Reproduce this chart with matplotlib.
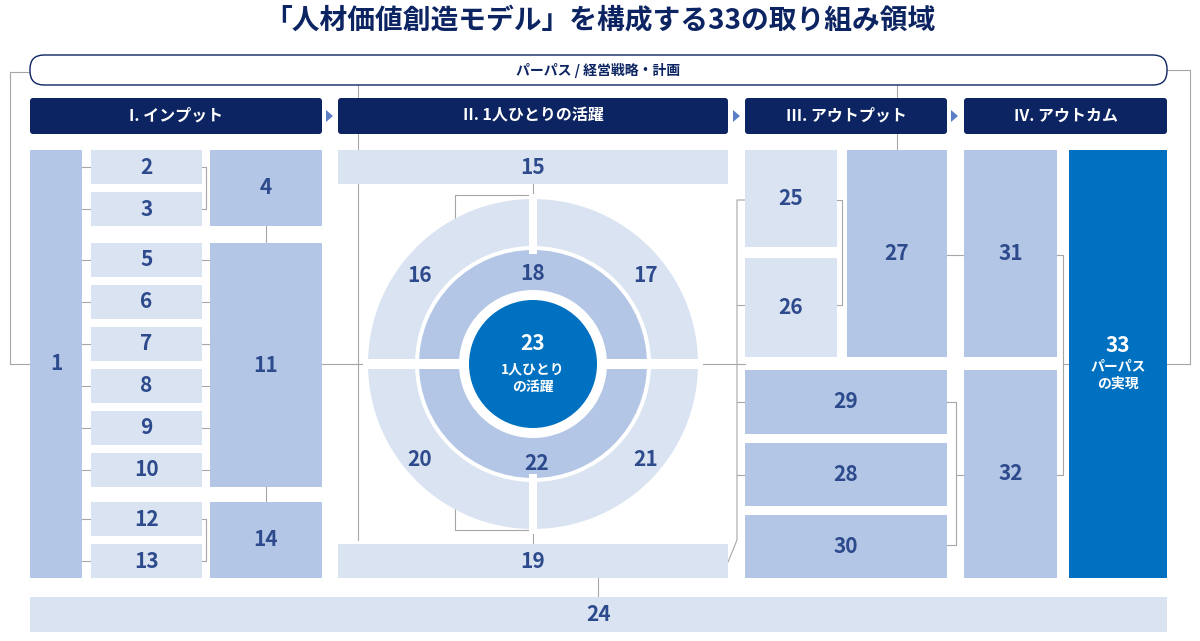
import matplotlib.pyplot as plt
from matplotlib.patches import Rectangle, FancyBboxPatch, Wedge, Circle, Polygon

plt.rcParams['font.family'] = ['Noto Sans CJK JP', 'DejaVu Sans']

NAVY = '#0c2461'
LIGHT = '#dae3f1'
MID = '#b4c6e6'
BLUE = '#0070c0'
NUM = '#2c4a8c'
GRAY = '#a6a6a6'

title = "「人材価値創造モデル」を構成する33の取り組み領域"
purpose = "パーパス / 経営戦略・計画"
headers = ["I. インプット", "II. 1人ひとりの活躍", "III. アウトプット", "IV. アウトカム"]
header_x = [(30, 322), (338, 728), (745, 947), (964, 1167)]

# (label, x0, y0, x1, y1, fill)
boxes = [
    ("1", 30, 150, 82, 578, MID),
    ("2", 91, 150, 202, 184, LIGHT), ("3", 91, 192, 202, 226, LIGHT),
    ("4", 210, 150, 322, 226, MID),
    ("5", 91, 243, 202, 277, LIGHT), ("6", 91, 285, 202, 319, LIGHT),
    ("7", 91, 327, 202, 361, LIGHT), ("8", 91, 369, 202, 403, LIGHT),
    ("9", 91, 411, 202, 445, LIGHT), ("10", 91, 453, 202, 487, LIGHT),
    ("11", 210, 243, 322, 487, MID),
    ("12", 91, 502, 202, 536, LIGHT), ("13", 91, 544, 202, 578, LIGHT),
    ("14", 210, 502, 322, 578, MID),
    ("15", 338, 150, 728, 184, LIGHT), ("19", 338, 544, 728, 578, LIGHT),
    ("25", 745, 150, 837, 247, LIGHT), ("26", 745, 258, 837, 357, LIGHT),
    ("27", 847, 150, 947, 357, MID),
    ("29", 745, 370, 947, 434, MID), ("28", 745, 443, 947, 506, MID),
    ("30", 745, 515, 947, 578, MID),
    ("31", 964, 150, 1057, 357, MID), ("32", 964, 370, 1057, 578, MID),
    ("24", 30, 597, 1167, 632, LIGHT),
]
ring_labels = {"16": (420, 276), "17": (646, 276), "20": (420, 460), "21": (646, 460),
               "18": (533, 273), "22": (537, 463)}

fig = plt.figure(figsize=(12, 6.41), dpi=100)
ax = fig.add_axes([0, 0, 1, 1])
ax.set_xlim(0, 1200)
ax.set_ylim(641, 0)
ax.axis('off')

ax.text(600, 20, title, ha='center', va='center', fontsize=20, weight='bold', color=NAVY)

# connector lines
lines = [
    [(30, 72), (10, 72), (10, 364), (30, 364)],
    [(1167, 70), (1190, 70), (1190, 364), (1167, 364)],
    [(322, 364), (745, 364)],
    [(82, 167), (91, 167)], [(82, 209), (91, 209)],
    [(82, 260), (91, 260)], [(82, 302), (91, 302)], [(82, 344), (91, 344)],
    [(82, 386), (91, 386)], [(82, 428), (91, 428)], [(82, 470), (91, 470)],
    [(82, 519), (91, 519)], [(82, 561), (91, 561)],
    [(202, 167), (206, 167), (206, 209), (202, 209)],
    [(202, 519), (206, 519), (206, 561), (202, 561)],
    [(266, 226), (266, 243)], [(266, 487), (266, 502)],
    [(202, 260), (210, 260)], [(202, 302), (210, 302)], [(202, 344), (210, 344)],
    [(202, 386), (210, 386)], [(202, 428), (210, 428)], [(202, 470), (210, 470)],
    [(358, 85), (358, 98)], [(358, 134), (358, 540)],
    [(533, 184), (533, 195), (455, 195), (455, 222)],
    [(455, 508), (455, 530), (533, 530), (533, 544)],
    [(745, 200), (737, 200), (737, 540), (728, 562)],
    [(737, 305), (745, 305)], [(737, 402), (745, 402)], [(737, 475), (745, 475)],
    [(837, 200), (842, 200), (842, 305), (837, 305)],
    [(947, 255), (964, 255)], [(947, 402), (956, 402), (956, 545), (947, 545)],
    [(956, 475), (964, 475)],
    [(1057, 255), (1063, 255), (1063, 475), (1057, 475)], [(1063, 364), (1069, 364)],
    [(897, 150), (897, 85)], [(598, 578), (598, 597)],
]
for ln in lines:
    xs, ys = zip(*ln)
    ax.plot(xs, ys, color=GRAY, lw=0.8, zorder=1)

# purpose bar
ax.add_patch(FancyBboxPatch((30, 55), 1137, 30, boxstyle="round,pad=0,rounding_size=14",
                            fc='white', ec=NAVY, lw=1, zorder=2))
ax.text(598, 70, purpose, ha='center', va='center', fontsize=10, weight='bold', color=NAVY)

# headers with arrow heads
for h, (x0, x1) in zip(headers, header_x):
    ax.add_patch(FancyBboxPatch((x0, 98), x1 - x0, 36, boxstyle="round,pad=0,rounding_size=3",
                                fc=NAVY, ec='none', zorder=2))
    ax.text((x0 + x1) / 2, 116, h, ha='center', va='center', fontsize=11.5,
            weight='bold', color='white')
for xa in [326, 733, 951]:
    ax.add_patch(Polygon([(xa, 110), (xa + 7, 116), (xa, 122)], fc='#5b7fc7', ec='none'))

for lab, x0, y0, x1, y1, fc in boxes:
    ax.add_patch(Rectangle((x0, y0), x1 - x0, y1 - y0, fc=fc, ec='none', zorder=2))
    ax.text((x0 + x1) / 2, (y0 + y1) / 2, lab, ha='center', va='center',
            fontsize=15, weight='bold', color=NUM, zorder=3)

# 33 box
ax.add_patch(Rectangle((1069, 150), 98, 428, fc=BLUE, ec='none', zorder=2))
ax.text(1118, 345, "33", ha='center', va='center', fontsize=15, weight='bold', color='white')
ax.text(1118, 375, "パーパス\nの実現", ha='center', va='center', fontsize=10,
        weight='bold', color='white', linespacing=1.3)

# rings
cx, cy = 533, 364
ax.add_patch(Wedge((cx, cy), 165, 0, 360, width=47, fc=LIGHT, ec='none', zorder=2))
ax.add_patch(Wedge((cx, cy), 114, 0, 360, width=40, fc=MID, ec='none', zorder=2))
ax.add_patch(Rectangle((cx - 4, cy - 170), 8, 60, fc='white', ec='none', zorder=2.5))
ax.add_patch(Rectangle((cx - 4, cy + 110), 8, 60, fc='white', ec='none', zorder=2.5))
ax.add_patch(Rectangle((cx - 170, cy - 5), 340, 10, fc='white', ec='none', zorder=2.5))
ax.add_patch(Circle((cx, cy), 70, fc='white', ec='none', zorder=2.6))
ax.add_patch(Circle((cx, cy), 64, fc=BLUE, ec='none', zorder=2.7))
ax.text(cx, cy - 20, "23", ha='center', va='center', fontsize=15, weight='bold', color='white', zorder=3)
ax.text(cx, cy + 14, "1人ひとり\nの活躍", ha='center', va='center', fontsize=10,
        weight='bold', color='white', linespacing=1.3, zorder=3)
for lab, (x, y) in ring_labels.items():
    ax.text(x, y, lab, ha='center', va='center', fontsize=15, weight='bold', color=NUM, zorder=3)

fig.savefig('out.png', dpi=100)
